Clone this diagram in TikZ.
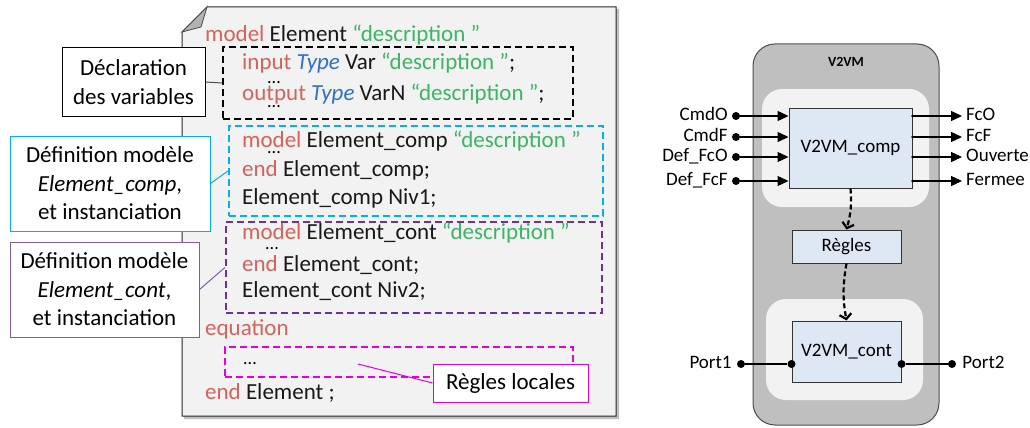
\documentclass[tikz,border=0pt]{standalone}
\usepackage{fontspec}
\setmainfont{Carlito}
\usepackage{tikz}
\usetikzlibrary{arrows.meta,positioning,calc}
\definecolor{kwred}{RGB}{214,98,90}
\definecolor{typblue}{RGB}{46,112,205}
\definecolor{strgreen}{RGB}{60,182,100}
\definecolor{zcyan}{RGB}{0,176,240}
\definecolor{zpurple}{RGB}{112,48,160}
\definecolor{cpurple}{RGB}{135,90,175}
\definecolor{zmagenta}{RGB}{224,0,224}
\definecolor{blockfill}{RGB}{222,231,244}
\newcommand{\kwd}[1]{\textcolor{kwred}{#1}}
\newcommand{\typ}[1]{\textcolor{typblue}{\textit{#1}}}
\newcommand{\strg}[1]{\textcolor{strgreen}{#1}}

\begin{document}
\begin{tikzpicture}[x=1pt,y=-1pt,
    code/.style={anchor=base west, inner sep=0pt, text=black!90, font=\fontsize{23}{28}\selectfont},
    dots/.style={anchor=base west, inner sep=0pt, font=\fontsize{18}{20}\selectfont},
    callout/.style={draw, line width=1pt, fill=white, align=center, inner sep=0pt, font=\fontsize{23}{28.5}\selectfont},
    zone/.style={draw, line width=2.2pt, dash pattern=on 7pt off 4pt, inner sep=0pt},
    block/.style={draw=black!80, line width=1pt, fill=blockfill, inner sep=0pt, font=\fontsize{19}{21}\selectfont},
    sig/.style={inner sep=0pt, text height=12pt, text depth=3pt, font=\fontsize{19}{21}\selectfont},
    pin dot/.style={circle, fill=black, inner sep=0pt, minimum size=8pt},
    sigarrow/.style={line width=1.3pt, -{Triangle[length=11pt,width=10pt]}},
    flow/.style={line width=2.2pt, dash pattern=on 5pt off 3pt, -{Straight Barb[length=5pt,width=12pt]}}]
    \useasboundingbox (0,0) rectangle (1030,428);
    % Code page
    \fill[black!25] (184,34) -- (209,9) -- (619,9) -- (619,419) -- (184,419) -- cycle;
    \draw[fill=black!5, draw=black!85, line width=1pt] (182,32) -- (207,7) -- (616,7) -- (616,416) -- (182,416) -- cycle;
    \draw[fill=black!30, draw=black!70, line width=0.8pt] (182,32) -- (207,7) -- (201,27) -- cycle;
    % Code lines
    \node[code] (mdl) at (205,42) {\kwd{model} Element \strg{“description ”}};
    \node[code] (inp) at (242,70) {\kwd{input} \typ{Type} Var \strg{“description ”};};
    \node[dots] (dotsa) at (267,83) {...};
    \node[code] (outp) at (242,100) {\kwd{output} \typ{Type} VarN \strg{“description ”};};
    \node[dots] (dotsb) at (267,107) {...};
    \node[code] (cmpa) at (242,147) {\kwd{model} Element\_comp \strg{“description ”}};
    \node[dots] (dotsc) at (267,153) {...};
    \node[code] (cmpb) at (242,176) {\kwd{end} Element\_comp;};
    \node[code] (cmpc) at (242,204) {Element\_comp Niv1;};
    \node[code] (cnta) at (242,239) {\kwd{model} Element\_cont \strg{“description ”}};
    \node[dots] (dotsd) at (265,249) {...};
    \node[code] (cntb) at (242,271) {\kwd{end} Element\_cont;};
    \node[code] (cntc) at (242,297) {Element\_cont Niv2;};
    \node[code] (eqn) at (205,335) {\kwd{equation}};
    \node[dots] (dotse) at (243,364) {...};
    \node[code] (endl) at (205,399) {\kwd{end} Element ;};
    % Dashed zones
    \node[zone, draw=black, minimum width=350pt, minimum height=72pt] (vars) at (398,83) {};
    \node[zone, draw=zcyan, minimum width=374pt, minimum height=90pt] (compzone) at (416,171) {};
    \node[zone, draw=zpurple, minimum width=376pt, minimum height=91pt] (contzone) at (414,267.5) {};
    \node[zone, draw=zmagenta, minimum width=348pt, minimum height=30pt] (eqzone) at (399,362) {};
    % Callouts
    \node[callout, minimum width=143pt, minimum height=68pt] (decl) at (133.5,82) {Déclaration\\des variables};
    \node[callout, draw=zcyan, minimum width=200pt, minimum height=95pt] (defcomp) at (110,183.5) {Définition modèle\\\textit{Element\_comp},\\et instanciation};
    \node[callout, draw=cpurple, minimum width=189pt, minimum height=95pt] (defcont) at (104.5,289.5) {Définition modèle\\\textit{Element\_cont},\\et instanciation};
    \node[callout, draw=zmagenta, minimum width=155pt, minimum height=38pt] (regloc) at (510.5,383) {Règles locales};
    \coordinate (eqpt) at (358,364);
    \draw[black!70, line width=1pt] (decl.east) -- (vars.west);
    \draw[zcyan, line width=1pt] (defcomp.east) -- (compzone.west);
    \draw[cpurple, line width=1pt] (defcont.east) -- (contzone.west);
    \draw[zmagenta, line width=1pt] (eqpt) -- (regloc.west);
    % V2VM block
    \draw[fill=black!25, draw=black!70, line width=1pt, rounded corners=22pt] (753,44) rectangle (939,425);
    \node[font=\bfseries\fontsize{14}{16}\selectfont] (v2vm) at (846,62) {V2VM};
    \fill[black!5, rounded corners=20pt] (762,89) rectangle (929,207);
    \fill[black!5, rounded corners=20pt] (766,299) rectangle (923,400);
    \node[block, minimum width=123pt, minimum height=80pt] (comp) at (850.5,148) {V2VM\_comp};
    \node[block, minimum width=109pt, minimum height=33pt] (regles) at (846.5,246.5) {Règles};
    \node[block, minimum width=109pt, minimum height=61pt] (cont) at (846.5,351.5) {V2VM\_cont};
    % Inputs and outputs
    \foreach \nm/\lab/\y in {cmdo/CmdO/116, cmdf/CmdF/137, deffco/Def\_FcO/157, deffcf/Def\_FcF/181} {
      \node[pin dot] (\nm) at (736,\y) {};
      \node[sig, left=4pt of \nm] (\nm lab) {\lab};
      \draw[sigarrow] (\nm) -- (\nm -| comp.west);
    }
    \foreach \nm/\lab/\y in {fco/FcO/116, fcf/FcF/137, ouv/Ouverte/157, fer/Fermee/181} {
      \coordinate (\nm) at (962,\y);
      \fill (comp.east |- \nm) circle (1.5pt);
      \draw[sigarrow] (comp.east |- \nm) -- (\nm);
      \node[sig, anchor=west] (\nm lab) at ($(\nm)+(4,0)$) {\lab};
    }
    % Ports
    \node[pin dot] (pa) at (741,364) {};
    \node[sig, left=5pt of pa] (palab) {Port1};
    \node[pin dot] (pain) at (cont.west |- pa) {};
    \draw[line width=1.2pt] (pa) -- (pain);
    \node[pin dot] (pbin) at (cont.east |- pa) {};
    \node[pin dot] (pb) at (952,364) {};
    \node[sig, right=6pt of pb] (pblab) {Port2};
    \draw[line width=1.2pt] (pbin) -- (pb);
    % Rules flow
    \draw[flow] (comp.south) to[bend left=10] (regles.north);
    \draw[flow] (regles.south) to[bend right=10] (cont.north);
\end{tikzpicture}
\end{document}
